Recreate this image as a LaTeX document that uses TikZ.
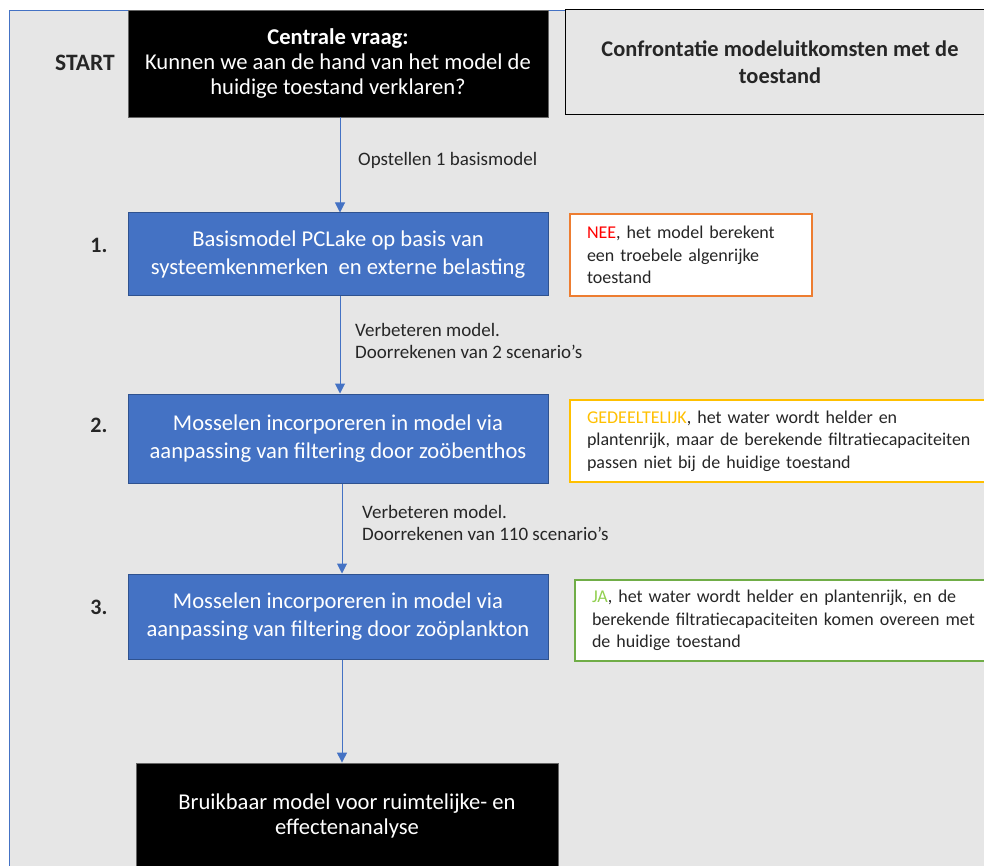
\documentclass[tikz,border=0pt]{standalone}
\usepackage{fontspec}
\setmainfont{Carlito}
\usetikzlibrary{arrows.meta}
\definecolor{bg}{HTML}{E6E6E6}
\definecolor{mblue}{HTML}{4472C4}
\definecolor{dblue}{HTML}{2F528F}
\definecolor{orng}{HTML}{ED7D31}
\definecolor{gold}{HTML}{FFC000}
\definecolor{grn}{HTML}{70AD47}
\definecolor{lgrn}{HTML}{92D050}
\definecolor{txt}{HTML}{262626}
\tikzset{
  blackbox/.style={draw=black!60, line width=0.8pt, fill=black, text=white, align=center, minimum width=420pt, inner sep=0pt, font=\fontsize{22.6}{25}\selectfont},
  bluebox/.style={draw=dblue, line width=1pt, fill=mblue, text=white, align=center, minimum width=420pt, inner sep=0pt, font=\fontsize{22.6}{28}\selectfont},
  sidebox/.style={fill=white, line width=1.3pt, align=left, inner xsep=17pt, inner ysep=0pt, text=txt, font=\fontsize{18}{22.5}\selectfont},
  lbl/.style={anchor=west, align=left, text=txt, inner sep=0pt, font=\fontsize{19}{22}\selectfont},
  numlbl/.style={text=txt, inner sep=0pt, font=\bfseries\fontsize{22}{26}\selectfont},
  flow/.style={draw=mblue, line width=1pt, -{Triangle[length=10pt,width=10pt]}}
}
\begin{document}
\begin{tikzpicture}[x=1pt,y=-1pt]
\useasboundingbox (0,0) rectangle (984,866);
\clip (0,0) rectangle (984,866);
\fill[bg] (9,10) rectangle (990,870);
\draw[mblue, line width=0.8pt] (9,870) -- (9,10) -- (990,10);

\node[blackbox, minimum height=107pt] (top) at (338,63.5)
  {\textbf{Centrale vraag:}\\Kunnen we aan de hand van het model de\\huidige toestand verklaren?};
\node[draw=black, line width=1pt, fill=bg, minimum width=430pt, minimum height=105pt, align=center, text=txt, font=\bfseries\fontsize{22.4}{27}\selectfont] (conf) at (780,62.5)
  {Confrontatie modeluitkomsten met de\\toestand};
\node[numlbl, font=\bfseries\fontsize{23.5}{26}\selectfont] (start) at (85,63) {START};

\node[bluebox, minimum height=83pt] (b1) at (338,254.5)
  {Basismodel PCLake op basis van\\systeemkenmerken \ en externe belasting};
\node[bluebox, minimum height=89pt] (b2) at (338,438.5)
  {Mosselen incorporeren in model via\\aanpassing van filtering door zoöbenthos};
\node[bluebox, minimum height=85pt] (b3) at (338,616.5)
  {Mosselen incorporeren in model via\\aanpassing van filtering door zoöplankton};
\node[blackbox, minimum width=422pt, minimum height=106pt] (fin) at (347,816)
  {Bruikbaar model voor ruimtelijke- en\\effectenanalyse};

\node[numlbl] (n1) at (99,245) {1.};
\node[numlbl] (n2) at (99,425) {2.};
\node[numlbl] (n3) at (99,607) {3.};

\node[sidebox, draw=orng, text width=208pt, minimum height=82pt] (nee) at (691,255)
  {\textcolor{red}{NEE}, het model berekent\\een troebele algenrijke\\toestand};
\node[sidebox, draw=gold, text width=396pt, minimum height=82pt] (ged) at (785,441)
  {\textcolor{gold}{GEDEELTELIJK}, het water wordt helder en\\plantenrijk, maar de berekende filtratiecapaciteiten\\passen niet bij de huidige toestand};
\node[sidebox, draw=grn, text width=391pt, minimum height=81pt] (ja) at (787.5,620.5)
  {\textcolor{lgrn}{JA}, het water wordt helder en plantenrijk, en de\\berekende filtratiecapaciteiten komen overeen met\\de huidige toestand};

\draw[flow] (top.south -| 340,0) -- (b1.north -| 340,0);
\draw[flow] (b1.south -| 340,0) -- (b2.north -| 340,0);
\draw[flow] (b2.south -| 342,0) -- (b3.north -| 342,0);
\draw[flow] (b3.south -| 342,0) -- (fin.north -| 342,0);

\node[lbl] (l1) at (358,160) {Opstellen 1 basismodel};
\node[lbl] (l2) at (355,341) {Verbeteren model.\\Doorrekenen van 2 scenario’s};
\node[lbl] (l3) at (362,523) {Verbeteren model.\\Doorrekenen van 110 scenario’s};
\end{tikzpicture}
\end{document}
